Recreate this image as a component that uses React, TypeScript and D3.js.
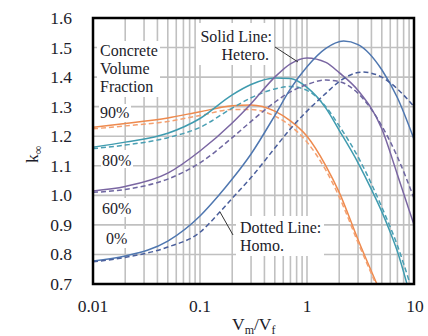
import React from "react";
import * as d3 from "d3";

const W = 428, H = 336;
const M = { left: 93, right: 414, top: 18, bottom: 284 };

const yTicks = [0.7, 0.8, 0.9, 1.0, 1.1, 1.2, 1.3, 1.4, 1.5, 1.6];
const xTicks = [0.01, 0.1, 1, 10];
const xTickLabels = ["0.01", "0.1", "1", "10"];

// 90% (orange)
const orangeX = [0.01, 0.02, 0.05, 0.1, 0.2, 0.3, 0.5, 0.7, 1, 1.5, 2, 3, 4.5];
const orangeHet = [1.23, 1.243, 1.262, 1.283, 1.303, 1.306, 1.285, 1.252, 1.2, 1.1, 1.01, 0.85, 0.7];
const orangeHomX = [0.01, 0.02, 0.05, 0.1, 0.2, 0.3, 0.5, 0.7, 1, 1.5, 2, 3, 4.4];
const orangeHom = [1.225, 1.235, 1.25, 1.27, 1.29, 1.29, 1.268, 1.235, 1.18, 1.085, 0.995, 0.84, 0.7];

// 80% (teal)
const tealX = [0.01, 0.02, 0.05, 0.1, 0.2, 0.3, 0.5, 0.7, 1, 1.5, 2, 3, 4, 5, 6, 7, 8.6];
const tealHet = [1.163, 1.18, 1.21, 1.26, 1.34, 1.375, 1.397, 1.395, 1.365, 1.295, 1.22, 1.11, 1.02, 0.945, 0.875, 0.81, 0.7];
const tealHomX = [0.01, 0.02, 0.05, 0.1, 0.2, 0.3, 0.5, 0.7, 1, 1.5, 2, 3, 5, 7, 9.2];
const tealHom = [1.158, 1.17, 1.195, 1.23, 1.295, 1.33, 1.36, 1.368, 1.355, 1.3, 1.235, 1.13, 0.96, 0.83, 0.7];

// 60% (purple)
const purpleX = [0.01, 0.02, 0.05, 0.1, 0.2, 0.3, 0.5, 0.7, 1, 1.5, 2, 3, 5, 7, 10];
const purpleHet = [1.015, 1.03, 1.075, 1.15, 1.245, 1.31, 1.4, 1.445, 1.465, 1.45, 1.415, 1.355, 1.225, 1.07, 0.9];
const purpleHom = [1.01, 1.02, 1.055, 1.11, 1.195, 1.25, 1.315, 1.35, 1.375, 1.39, 1.385, 1.345, 1.235, 1.13, 0.99];

// 0% (blue)
const blueX = [0.01, 0.02, 0.05, 0.1, 0.15, 0.2, 0.3, 0.5, 0.7, 1, 1.5, 2.2, 3, 5, 7, 10];
const blueHet = [0.778, 0.795, 0.845, 0.93, 1.0, 1.055, 1.14, 1.27, 1.36, 1.435, 1.497, 1.522, 1.51, 1.425, 1.33, 1.19];
const blueHomX = [0.01, 0.02, 0.05, 0.1, 0.15, 0.2, 0.3, 0.5, 0.7, 1, 1.5, 2, 3.3, 5, 7, 10];
const blueHom = [0.775, 0.79, 0.825, 0.875, 0.94, 0.99, 1.06, 1.16, 1.225, 1.285, 1.345, 1.385, 1.417, 1.4, 1.36, 1.3];

const series = [
  { xs: orangeX, ys: orangeHet, color: "#EE8A4E", dashed: false },
  { xs: orangeHomX, ys: orangeHom, color: "#F4A070", dashed: true },
  { xs: tealX, ys: tealHet, color: "#3F9BAF", dashed: false },
  { xs: tealHomX, ys: tealHom, color: "#4A9FB3", dashed: true },
  { xs: purpleX, ys: purpleHet, color: "#7A66A2", dashed: false },
  { xs: purpleX, ys: purpleHom, color: "#6E66A0", dashed: true },
  { xs: blueX, ys: blueHet, color: "#4F77B0", dashed: false },
  { xs: blueHomX, ys: blueHom, color: "#4A5F9C", dashed: true },
];

const FONT = "'Liberation Serif', 'DejaVu Serif', serif";
const TXT = "#1c1c2a";

export default function App() {
  const x = d3.scaleLog().domain([0.01, 10]).range([M.left, M.right]);
  const y = d3.scaleLinear().domain([0.7, 1.6]).range([M.bottom, M.top]);

  const minorX: number[] = [];
  [0.01, 0.1, 1].forEach((d) => {
    for (let i = 1; i <= 9; i++) minorX.push(d * i);
  });
  minorX.push(10);

  const line = d3
    .line<[number, number]>()
    .x((d) => x(d[0]))
    .y((d) => y(d[1]))
    .curve(d3.curveMonotoneX);

  const labelBoxes = [
    { x: 97, y: 41, w: 63, h: 56 },
    { x: 99, y: 104, w: 32, h: 18 },
    { x: 101, y: 150, w: 32, h: 18 },
    { x: 100, y: 198, w: 33, h: 19 },
    { x: 104, y: 229, w: 25, h: 19 },
    { x: 196, y: 23, w: 78, h: 42 },
    { x: 236, y: 216, w: 88, h: 40 },
  ];

  const textStyle = { fontFamily: FONT };

  return (
    <svg
      width={W}
      height={H}
      style={{ position: "absolute", left: 0, top: 0, background: "#fff", fontFamily: FONT }}
    >
      <defs>
        <clipPath id="plot">
          <rect x={M.left} y={M.top} width={M.right - M.left} height={M.bottom - M.top} />
        </clipPath>
      </defs>
      <rect x={0} y={0} width={W} height={H} fill="#fff" />
      {/* grid */}
      <g stroke="#c0c0c0" strokeWidth={1.6}>
        {minorX.map((v, i) => (
          <line key={"gx" + i} x1={x(v)} x2={x(v)} y1={M.top} y2={M.bottom} />
        ))}
        {yTicks.map((v, i) => (
          <line key={"gy" + i} x1={M.left} x2={M.right} y1={y(v)} y2={y(v)} />
        ))}
      </g>
      {/* label backgrounds */}
      {labelBoxes.map((b, i) => (
        <rect key={"lb" + i} x={b.x} y={b.y} width={b.w} height={b.h} fill="#fff" />
      ))}
      {/* curves */}
      <g clipPath="url(#plot)" fill="none">
        {series.map((s, i) => (
          <path
            key={"s" + i}
            d={line(s.xs.map((v, j) => [v, s.ys[j]] as [number, number])) || ""}
            stroke={s.color}
            strokeWidth={1.5}
            strokeDasharray={s.dashed ? "5,3" : undefined}
          />
        ))}
      </g>
      {/* annotations */}
      <g fill={TXT} fontSize={16} style={textStyle}>
        <text x={100} y={56}>Concrete</text>
        <text x={100} y={74}>Volume</text>
        <text x={100} y={92}>Fraction</text>
        <text x={100} y={118}>90%</text>
        <text x={102} y={166}>80%</text>
        <text x={102} y={214}>60%</text>
        <text x={106} y={244}>0%</text>
        <text x={272} y={42} textAnchor="end">Solid Line:</text>
        <text x={269} y={60} textAnchor="end">Hetero.</text>
        <text x={240} y={233}>Dotted Line:</text>
        <text x={240} y={251}>Homo.</text>
      </g>
      <g stroke="#333" strokeWidth={1}>
        <line x1={275} y1={47} x2={298} y2={62} />
        <line x1={220} y1={212} x2={233} y2={235} />
      </g>
      {/* frame */}
      <rect
        x={M.left}
        y={M.top}
        width={M.right - M.left}
        height={M.bottom - M.top}
        fill="none"
        stroke="#000"
        strokeWidth={2.5}
      />
      {/* tick labels */}
      <g fill={TXT} fontSize={17.5} style={textStyle}>
        {yTicks.map((v, i) => (
          <text key={"yt" + i} x={72} y={y(v) + 6} textAnchor="end">
            {v.toFixed(1)}
          </text>
        ))}
        {xTicks.map((v, i) => (
          <text key={"xt" + i} x={x(v) + (i === 3 ? 1 : 0)} y={312} textAnchor="middle">
            {xTickLabels[i]}
          </text>
        ))}
      </g>
      {/* axis titles */}
      <text x={232} y={330} fill={TXT} fontSize={17.5} style={textStyle}>
        V<tspan fontSize={12} dy={4}>m</tspan>
        <tspan dy={-4}>/V</tspan>
        <tspan fontSize={12} dy={4}>f</tspan>
      </text>
      <text transform="translate(38,163) rotate(-90)" fill={TXT} fontSize={17.5} style={textStyle}>
        k<tspan fontSize={12} dy={4}>∞</tspan>
      </text>
    </svg>
  );
}
